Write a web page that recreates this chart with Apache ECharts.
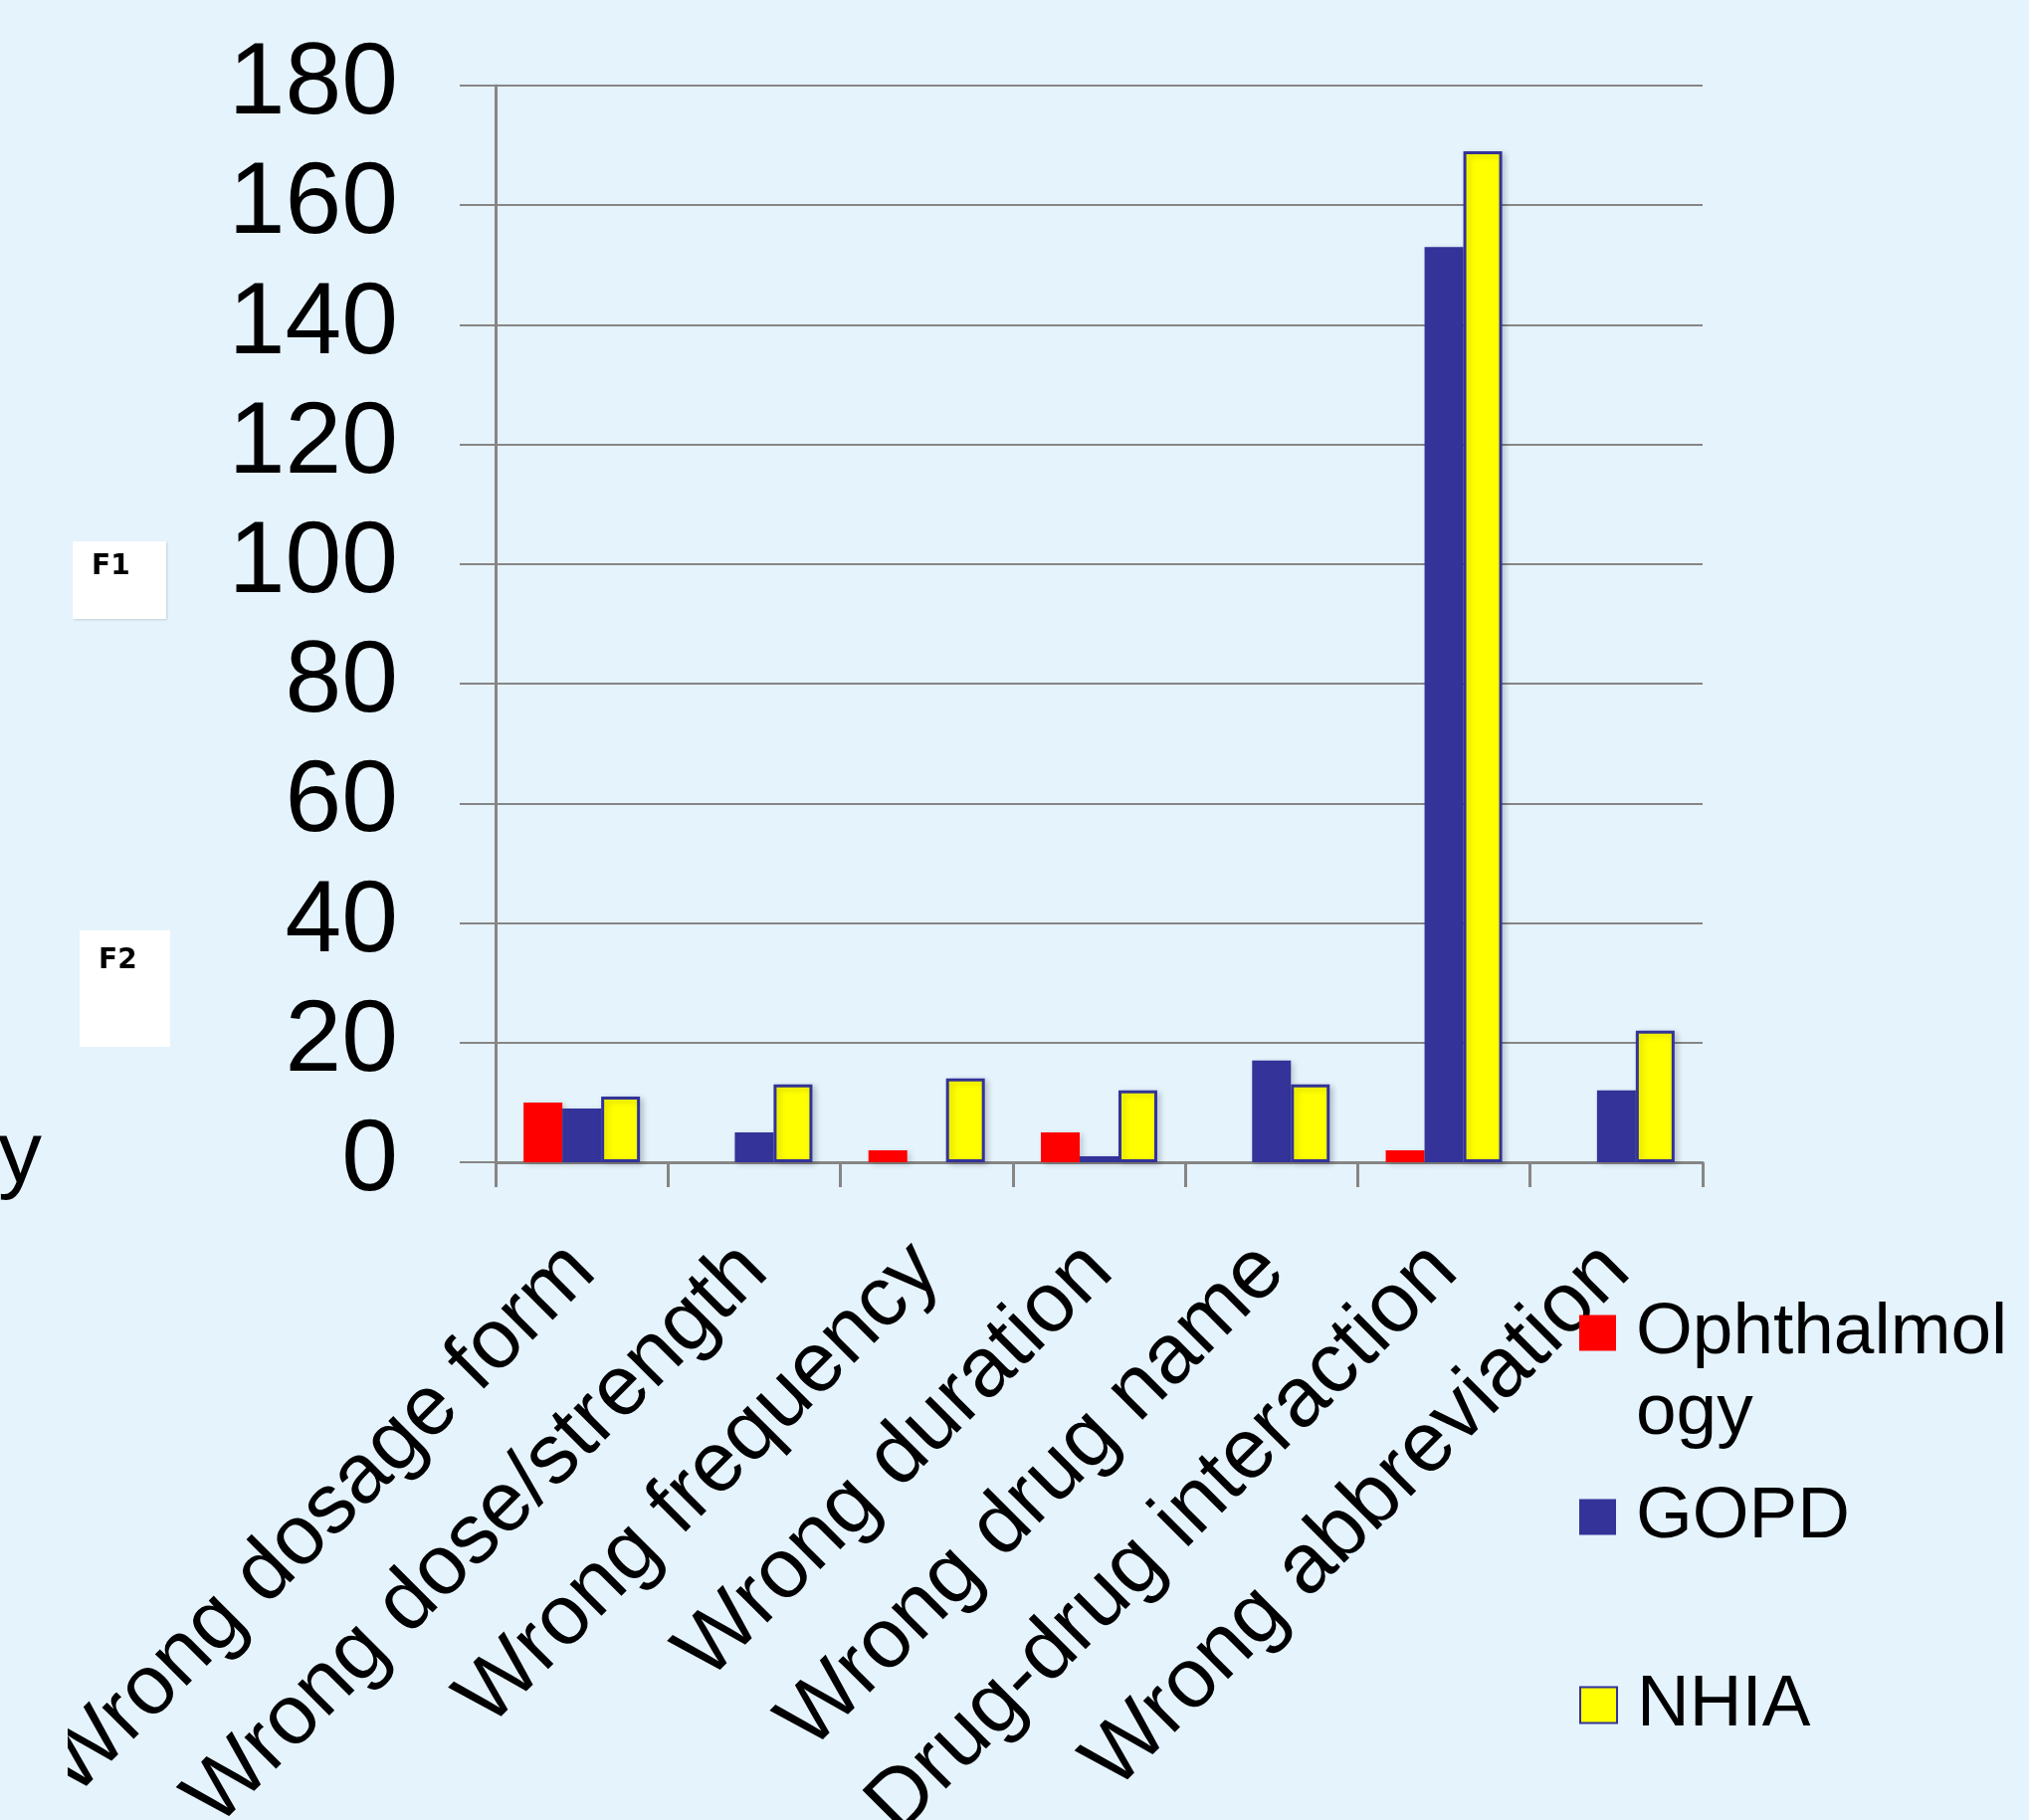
<!DOCTYPE html>
<html><head><meta charset="utf-8">
<script src="https://cdn.jsdelivr.net/npm/echarts@6/dist/echarts.min.js"></script>
<style>html,body{margin:0;padding:0;background:#e5f3fd;} #c{width:2039px;height:1829px;}</style>
</head><body><div id="c"></div>
<script>
const categories = ['Wrong dosage form','Wrong dose/strength','Wrong frequency','Wrong duration','Wrong drug name','Drug-drug interaction','Wrong abbreviation'];
const seriesNames = ['Ophthalmology','GOPD','NHIA'];
const ophthalmology = [10,0,2,5,0,2,0];
const gopd = [9,5,0,1,17,153,12];
const nhia = [11,13,14,12,13,169,22];
const yTicks = {min:0, max:180, interval:20};

const BG = '#e5f3fd';
const FONT = '"Liberation Sans", Arial, sans-serif';
const GRAY = '#868686';
const chart = echarts.init(document.getElementById('c'), null, {renderer:'canvas'});
const shadow = {shadowColor:'rgba(0,0,0,0.18)', shadowBlur:6, shadowOffsetX:3, shadowOffsetY:2};
function legendCfg(name, top, first){
  return {
    data:[name], left:1587, top:top, orient:'vertical', padding:0,
    icon:'rect', itemWidth:37, itemHeight:36, selectedMode:false,
    formatter: first ? ' \nOphthalmol\nogy' : '{name}',
    textStyle:{fontFamily:FONT, fontSize:73, color:'#000', lineHeight:81,
      padding:[0,0,0,15]}
  };
}
chart.setOption({
  backgroundColor:BG,
  animation:false,
  grid:{left:498, right:328, top:86, bottom:661, containLabel:false, outerBoundsMode:'none'},
  legend:[
    legendCfg(seriesNames[0], 1218, true),
    legendCfg(seriesNames[1], 1484, false),
    legendCfg(seriesNames[2], 1673, false)
  ],
  xAxis:{
    type:'category', data:categories,
    axisLine:{show:true, lineStyle:{color:GRAY, width:3}},
    axisTick:{show:true, interval:0, length:25, lineStyle:{color:GRAY, width:3}},
    axisLabel:{interval:0, rotate:45, fontFamily:FONT, fontSize:85, color:'#000', margin:96}
  },
  yAxis:{
    type:'value', min:yTicks.min, max:yTicks.max, interval:yTicks.interval,
    axisLine:{show:true, lineStyle:{color:GRAY, width:3}},
    axisTick:{show:true, length:36, lineStyle:{color:GRAY, width:2}},
    splitLine:{show:true, lineStyle:{color:GRAY, width:2}},
    axisLabel:{fontFamily:FONT, fontSize:102, color:'#000', margin:98}
  },
  series:[
    {name:seriesNames[0], type:'bar', data:ophthalmology, barGap:'0%', barCategoryGap:'32.5%',
     itemStyle:Object.assign({color:'#ff0000'}, shadow)},
    {name:seriesNames[1], type:'bar', data:gopd, barGap:'0%', barCategoryGap:'32.5%',
     itemStyle:Object.assign({color:'#333399'}, shadow)},
    {name:seriesNames[2], type:'bar', data:nhia, barGap:'0%', barCategoryGap:'32.5%',
     itemStyle:Object.assign({color:'#ffff00', borderColor:'#333399', borderWidth:3}, shadow)}
  ],
  graphic:[
    {type:'rect', shape:{x:73, y:544, width:94, height:78}, style:{fill:'#ffffff', shadowColor:'rgba(0,0,0,0.15)', shadowBlur:2, shadowOffsetX:1, shadowOffsetY:1}},
    {type:'text', x:92, y:556, style:{text:'F1', fontFamily:'"DejaVu Sans", sans-serif', fontWeight:'bold', fontSize:28, fill:'#000'}},
    {type:'rect', shape:{x:80, y:935, width:91, height:117}, style:{fill:'#ffffff'}},
    {type:'text', x:99, y:952, style:{text:'F2', fontFamily:'"DejaVu Sans", sans-serif', fontWeight:'bold', fontSize:28, fill:'#000'}},
    {type:'text', x:-2, y:1120, style:{text:'y', fontFamily:FONT, fontSize:88, fill:'#000'}},
    {type:'rect', z:100, shape:{x:0, y:1400, width:68, height:429}, style:{fill:BG}}
  ]
});
</script></body></html>
